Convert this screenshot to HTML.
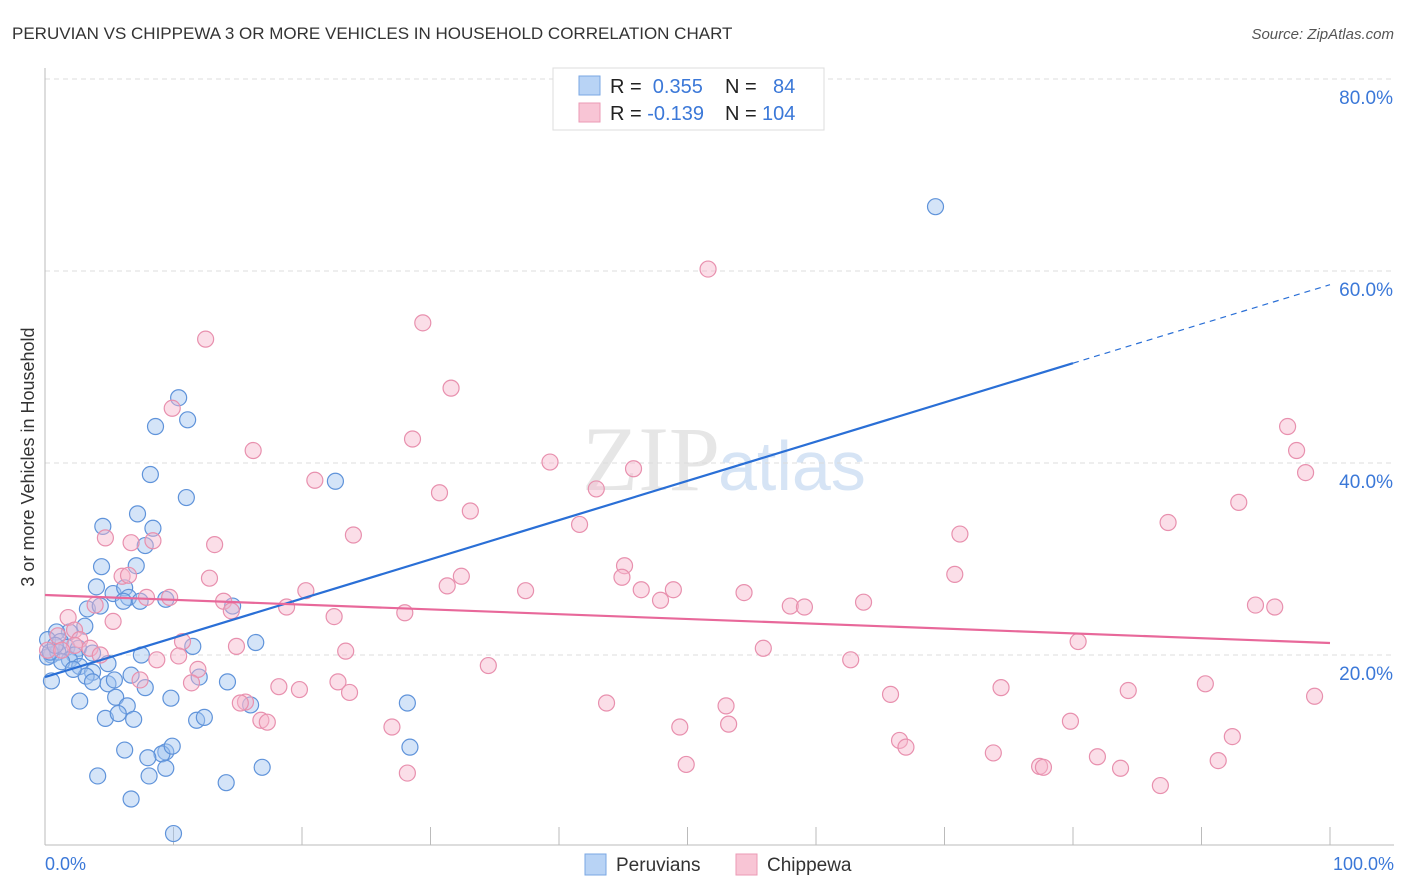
<!DOCTYPE html>
<html><head><meta charset="utf-8"><style>
body{margin:0;background:#fff;font-family:"Liberation Sans",sans-serif}
svg{display:block}
</style></head><body>
<svg id="chart" width="1406" height="892" font-family="Liberation Sans, sans-serif">
<text x="12" y="39" font-size="17" fill="#333">PERUVIAN VS CHIPPEWA 3 OR MORE VEHICLES IN HOUSEHOLD CORRELATION CHART</text>
<text x="1394" y="39" font-size="15" fill="#555" font-style="italic" text-anchor="end">Source: ZipAtlas.com</text>
<text x="720" y="490" font-size="92" fill="#e6e6e6" text-anchor="end" font-family="Liberation Serif, serif">ZIP</text>
<text x="718" y="490" font-size="70" fill="#d6e4f5">atlas</text>
<g id="grid"></g>
<g id="axes"></g>
<g id="marks"></g>
<text transform="translate(34,457) rotate(-90)" font-size="18" fill="#333" text-anchor="middle">3 or more Vehicles in Household</text>
<text x="45" y="870" font-size="18" fill="#3b78d8">0.0%</text>
<text x="1394" y="870" font-size="18" fill="#3b78d8" text-anchor="end">100.0%</text>
<g>
<rect x="553" y="68" width="271" height="62" fill="#fff" stroke="#ddd"/>
<rect x="579" y="76" width="21" height="19" fill="#b8d3f5" stroke="#7aa7e3"/>
<rect x="579" y="103" width="21" height="19" fill="#f8c5d5" stroke="#eb9ab5"/>
<text x="610" y="93" font-size="20" fill="#222">R = <tspan fill="#3b78d8">&#160;0.355</tspan><tspan x="725">N = </tspan><tspan x="773" fill="#3b78d8">84</tspan></text>
<text x="610" y="120" font-size="20" fill="#222">R = <tspan fill="#3b78d8">-0.139</tspan><tspan x="725">N = </tspan><tspan x="762" fill="#3b78d8">104</tspan></text>
</g>
<g>
<rect x="585" y="854" width="21" height="21" fill="#b8d3f5" stroke="#7aa7e3"/>
<text x="616" y="871" font-size="19" fill="#333">Peruvians</text>
<rect x="736" y="854" width="21" height="21" fill="#f8c5d5" stroke="#eb9ab5"/>
<text x="767" y="871" font-size="19" fill="#333">Chippewa</text>
</g>
</svg>
<script>
const yTicks=[20,40,60,80];
const yTickLabels=["20.0%","40.0%","60.0%","80.0%"];
const xTicks=[10,20,30,40,50,60,70,80,90,100];
const bluX=[69.3,10.4,11.1,8.6,8.2,11.0,22.6,4.5,7.2,8.4,7.8,7.1,4.4,4.0,5.3,6.2,6.5,6.1,7.4,9.4,14.6,3.3,4.3,3.1,1.9,0.9,0.2,1.2,1.7,2.6,11.5,16.4,0.5,0.2,1.0,2.3,3.7,7.5,1.9,1.3,2.7,4.9,3.7,3.2,6.7,2.2,0.5,4.9,5.4,7.8,12.0,14.2,3.7,5.5,2.7,9.8,16.0,28.2,6.4,4.7,6.9,5.7,11.8,12.4,6.2,9.4,9.1,9.9,8.0,28.4,16.9,9.4,4.1,8.1,14.1,6.7,10.0,0.4,0.8];
const bluY=[66.7,46.8,44.5,43.8,38.8,36.4,38.1,33.4,34.7,33.2,31.4,29.3,29.2,27.1,26.4,27.0,26.0,25.6,25.6,25.8,25.1,24.8,25.1,23.0,22.4,22.4,21.6,21.4,20.8,20.7,20.9,21.3,20.0,19.8,20.3,20.0,20.2,20.0,19.5,19.3,18.8,19.1,18.2,17.8,17.9,18.5,17.3,17.0,17.4,16.6,17.7,17.2,17.2,15.6,15.2,15.5,14.8,15.0,14.7,13.4,13.3,13.9,13.2,13.5,10.1,9.9,9.7,10.5,9.3,10.4,8.3,8.2,7.4,7.4,6.7,5.0,1.4,20.3,21.0];
const pinX=[51.6,12.5,29.4,31.6,16.2,28.6,9.9,39.3,45.8,21.0,42.9,30.7,33.1,24.0,41.6,96.7,97.4,98.1,92.9,87.4,71.2,4.7,6.7,8.4,13.2,45.1,44.9,32.4,31.3,37.4,46.4,48.9,47.9,54.4,70.8,12.8,6.0,6.5,20.3,13.9,7.9,9.7,58.0,59.1,63.7,94.2,95.7,3.9,5.3,1.8,14.5,18.8,28.0,22.5,2.3,1.0,2.7,2.3,10.7,14.9,23.4,55.9,80.4,0.2,1.3,3.5,4.3,10.4,8.7,62.7,34.5,11.9,11.4,22.8,18.2,19.8,23.7,7.4,74.4,84.3,90.3,98.8,65.8,15.6,15.2,43.7,53.0,16.8,17.3,27.0,49.4,53.2,79.8,66.5,67.0,73.8,92.4,81.9,83.7,77.4,77.7,91.3,49.9,28.2,86.8];
const pinY=[60.2,52.9,54.6,47.8,41.3,42.5,45.7,40.1,39.4,38.2,37.3,36.9,35.0,32.5,33.6,43.8,41.3,39.0,35.9,33.8,32.6,32.2,31.7,31.9,31.5,29.3,28.1,28.2,27.2,26.7,26.8,26.8,25.7,26.5,28.4,28.0,28.2,28.3,26.7,25.6,26.0,26.0,25.1,25.0,25.5,25.2,25.0,25.2,23.5,23.9,24.6,25.0,24.4,24.0,22.6,22.0,21.6,21.0,21.4,20.9,20.4,20.7,21.4,20.5,20.5,20.7,20.0,19.9,19.5,19.5,18.9,18.5,17.1,17.2,16.7,16.4,16.1,17.4,16.6,16.3,17.0,15.7,15.9,15.1,15.0,15.0,14.7,13.2,13.0,12.5,12.5,12.8,13.1,11.1,10.4,9.8,11.5,9.4,8.2,8.4,8.3,9.0,8.6,7.7,6.4];
const bluTrend=[17.7,50.4];
const pinTrend=[26.25,21.25];
const NS="http://www.w3.org/2000/svg";
const X=v=>45+v*12.85, Y=v=>847-v*9.6;
function mk(t,a,p){const e=document.createElementNS(NS,t);for(const k in a)e.setAttribute(k,a[k]);p.appendChild(e);return e;}
const grid=document.getElementById('grid'),axes=document.getElementById('axes'),marks=document.getElementById('marks');
yTicks.forEach((t,i)=>{
 const l=mk('line',{x1:45,x2:1394,y1:Y(t),y2:Y(t),stroke:'#dcdcdc','stroke-dasharray':'5,4'},grid);
 
 
 const tx=mk('text',{x:1393,y:Y(t)+25,'font-size':19,fill:'#3b78d8','text-anchor':'end'},grid);
 tx.textContent=yTickLabels[i];
 
 
});
const ax=mk('line',{x1:45,x2:45,y1:68,y2:845,stroke:'#bbb'},axes);


const bx=mk('line',{x1:45,x2:1394,y1:845,y2:845,stroke:'#bbb'},axes);


xTicks.forEach(t=>{
 const l=mk('line',{x1:X(t),x2:X(t),y1:827,y2:845,stroke:'#bbb'},axes);
 
 
});
bluX.forEach((v,i)=>{
 const c=mk('circle',{cx:X(v),cy:Y(bluY[i]),r:8,fill:'rgba(160,196,240,0.45)',stroke:'#5f93da','stroke-width':1.2},marks);
 
 
});
pinX.forEach((v,i)=>{
 const c=mk('circle',{cx:X(v),cy:Y(pinY[i]),r:8,fill:'rgba(246,182,204,0.45)',stroke:'#e890ae','stroke-width':1.2},marks);
 
 
});
const bs=(bluTrend[1]-bluTrend[0])/80;
const bl=mk('line',{x1:X(0),y1:Y(bluTrend[0]),x2:X(80),y2:Y(bluTrend[1]),stroke:'#2a6fd6','stroke-width':2.2},marks);


const bd=mk('line',{x1:X(80),y1:Y(bluTrend[1]),x2:X(100),y2:Y(bluTrend[0]+bs*100),stroke:'#2a6fd6','stroke-width':1.2,'stroke-dasharray':'6,5'},marks);


const pl=mk('line',{x1:X(0),y1:Y(pinTrend[0]),x2:X(100),y2:Y(pinTrend[1]),stroke:'#e8689a','stroke-width':2.2},marks);


</script>
</body></html>
